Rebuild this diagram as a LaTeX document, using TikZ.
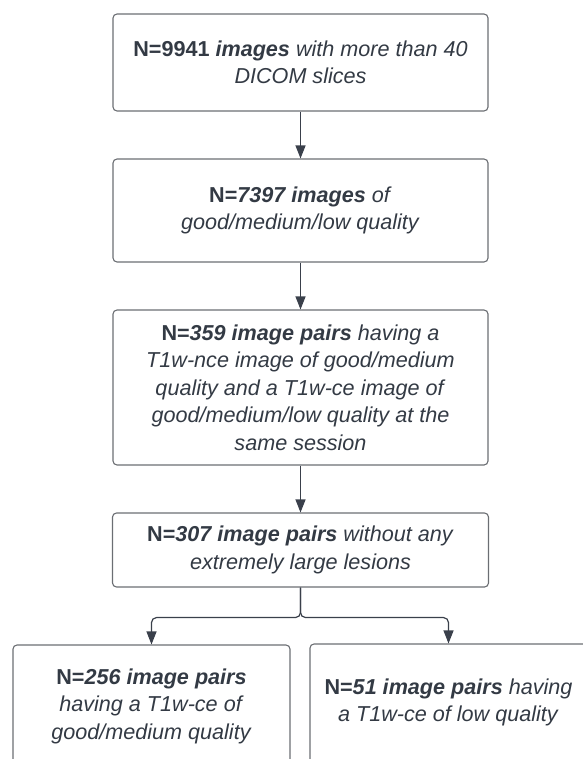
\documentclass[tikz,border=0pt]{standalone}
\usepackage{fontspec}
\setmainfont{Liberation Sans}
\usetikzlibrary{arrows.meta}
\definecolor{boxgray}{HTML}{6B6E73}
\definecolor{arrgray}{HTML}{3A404B}
\definecolor{txtgray}{HTML}{333A44}
\begin{document}
\begin{tikzpicture}[x=1pt,y=-1pt,
    stagebox/.style={draw=boxgray, line width=1.1pt, rounded corners=4pt, inner sep=0pt,
        align=center, text=txtgray, font=\fontsize{21.6}{27.5}\selectfont},
    flowarrow/.style={draw=arrgray, line width=1.2pt, -{Triangle[width=10pt,length=13pt]}}]
    \useasboundingbox (0,0) rectangle (582,759);
    \node[stagebox, minimum width=375pt, minimum height=97pt] (images) at (300.5,62.5)
        {\textbf{N=9941 \textit{images}} \textit{with more than 40}\\ \textit{DICOM slices}};
    \node[stagebox, minimum width=375pt, minimum height=103pt] (quality) at (300.5,210.5)
        {\textbf{N=\textit{7397 images}} \textit{of}\\ \textit{good/medium/low quality}};
    \node[stagebox, minimum width=375pt, minimum height=155pt] (pairs) at (300.5,387.5)
        {\textbf{N=\textit{359 image pairs}} \textit{having a}\\ \textit{T1w-nce image of good/medium}\\
         \textit{quality and a T1w-ce image of}\\ \textit{good/medium/low quality at the}\\ \textit{same session}};
    \node[stagebox, minimum width=376pt, minimum height=74pt] (lesions) at (300.5,550)
        {\textbf{N=\textit{307 image pairs}} \textit{without any}\\ \textit{extremely large lesions}};
    \node[stagebox, minimum width=277pt, minimum height=122pt] (goodce) at (151.5,706)
        {\textbf{N=\textit{256 image pairs}}\\ \textit{having a T1w-ce of}\\ \textit{good/medium quality}};
    \node[stagebox, minimum width=277pt, minimum height=124pt] (lowce) at (448.5,706)
        {\textbf{N=\textit{51 image pairs}} \textit{having}\\ \textit{a T1w-ce of low quality}\\[-16pt]\mbox{}};
    \draw[flowarrow] (images) -- (quality);
    \draw[flowarrow] (quality) -- (pairs);
    \draw[flowarrow] (pairs) -- (lesions);
    \draw[flowarrow, rounded corners=5pt] (lesions.south) -- ++(0,30) -| (goodce.north);
    \draw[flowarrow, rounded corners=5pt] (lesions.south) -- ++(0,30) -| (lowce.north);
\end{tikzpicture}
\end{document}
